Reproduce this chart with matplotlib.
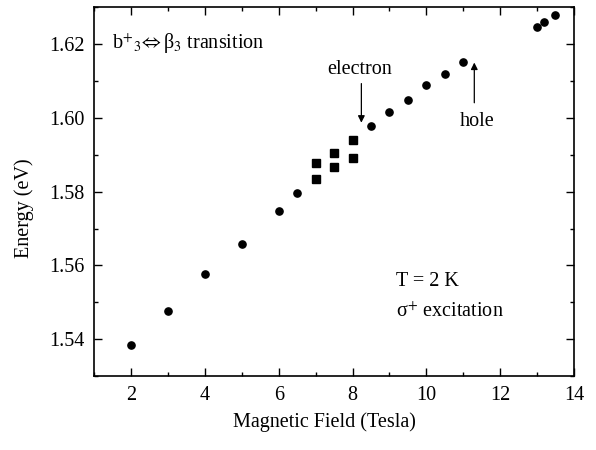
import matplotlib
matplotlib.use("Agg")
import matplotlib.pyplot as plt
from matplotlib.ticker import MultipleLocator

plt.rcParams['font.family'] = ['Liberation Serif', 'DejaVu Serif']
plt.rcParams['mathtext.fontset'] = 'stix'

# circles: main transition
field_c = [2, 3, 4, 5, 6, 6.5, 8.5, 9, 9.5, 10, 10.5, 11, 13, 13.2, 13.5]
energy_c = [1.5384, 1.5477, 1.5576, 1.5658, 1.5749, 1.5797, 1.5978, 1.6017,
            1.6049, 1.6089, 1.6119, 1.6151, 1.6247, 1.6261, 1.6279]
# squares: split lines
field_s = [7, 7, 7.5, 7.5, 8, 8]
energy_s = [1.5877, 1.5835, 1.5906, 1.5866, 1.5940, 1.5890]

fs = 14.5

fig = plt.figure(figsize=(5.96, 4.5), dpi=100)
ax = fig.add_axes([0.158, 0.164, 0.805, 0.820])

ax.plot(field_c, energy_c, 'o', color='black', ms=5.2)
ax.plot(field_s, energy_s, 's', color='black', ms=6)

ax.set_xlim(1, 14)
ax.set_ylim(1.53, 1.63)
ax.xaxis.set_major_locator(MultipleLocator(2))
ax.xaxis.set_minor_locator(MultipleLocator(1))
ax.yaxis.set_major_locator(MultipleLocator(0.02))
ax.yaxis.set_minor_locator(MultipleLocator(0.01))
ax.yaxis.set_major_formatter(plt.FormatStrFormatter('%.2f'))
ax.tick_params(which='both', direction='in', top=True, right=True,
               labelsize=fs, width=1)
ax.tick_params(which='major', length=6, pad=7)
ax.tick_params(which='minor', length=3)
for s in ax.spines.values():
    s.set_linewidth(1.2)

ax.set_xlabel('Magnetic Field (Tesla)', fontsize=fs)
ax.set_ylabel('Energy (eV)', fontsize=fs)
ax.xaxis.set_label_coords(0.48, -0.098)
ax.yaxis.set_label_coords(-0.125, 0.455)

ax.text(1.49, 1.62, r'b$^{+}{}_{3}\!\Leftrightarrow$β$_{3}$ transition',
        fontsize=fs, va='center', ha='left')
ax.text(9.18, 1.5556, 'T = 2 K', fontsize=fs, va='center', ha='left')
ax.text(9.18, 1.5474, 'σ$^{+}$ excitation', fontsize=fs, va='center', ha='left')

ax.text(8.19, 1.6130, 'electron', fontsize=fs, va='center', ha='center')
ax.annotate('', xy=(8.24, 1.5987), xytext=(8.24, 1.6093),
            arrowprops=dict(arrowstyle='-|>', color='black', lw=0.9,
                            mutation_scale=10, shrinkA=0, shrinkB=0))
ax.text(11.38, 1.599, 'hole', fontsize=fs, va='center', ha='center')
ax.annotate('', xy=(11.3, 1.615), xytext=(11.3, 1.6041),
            arrowprops=dict(arrowstyle='-|>', color='black', lw=0.9,
                            mutation_scale=10, shrinkA=0, shrinkB=0))

fig.savefig('out.png', dpi=100)
